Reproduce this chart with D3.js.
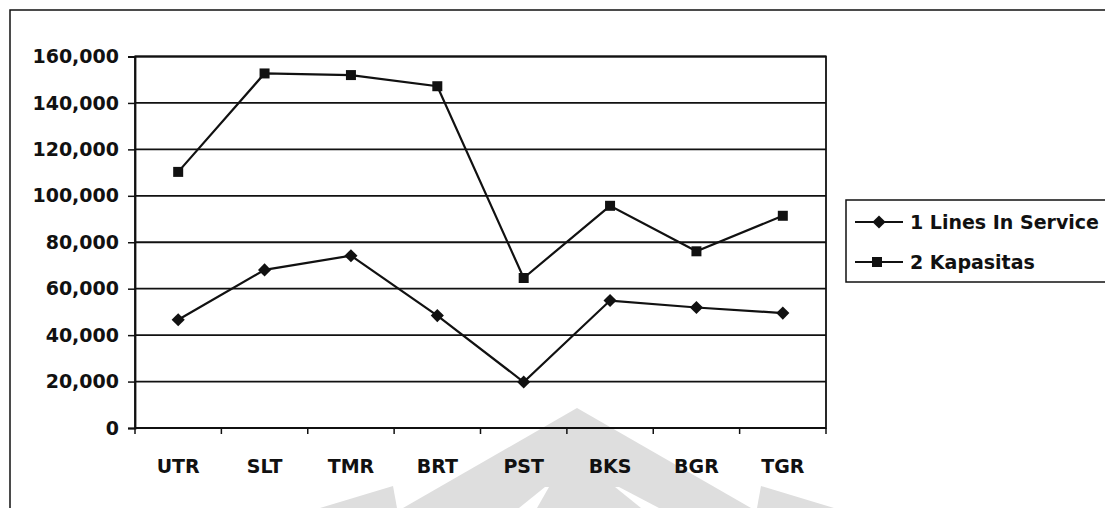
<!DOCTYPE html>
<html>
<head>
<meta charset="utf-8">
<script src="https://cdn.jsdelivr.net/npm/d3@7"></script>
<style>
  html, body { margin: 0; padding: 0; background: #fff; }
  svg { display: block; }
  text { font-family: "DejaVu Sans", Verdana, sans-serif; font-weight: bold; fill: #111; }
</style>
</head>
<body>
<svg id="chart" width="1105" height="508"></svg>
<script>
// Regional data: lines in service vs. capacity
const categories = ["UTR", "SLT", "TMR", "BRT", "PST", "BKS", "BGR", "TGR"];
const linesInService = [46600, 68100, 74200, 48400, 19800, 54900, 51900, 49500];
const kapasitas = [110300, 152700, 152000, 147200, 64600, 95700, 76100, 91400];
const yTicks = [0, 20000, 40000, 60000, 80000, 100000, 120000, 140000, 160000];
const seriesNames = ["1 Lines In Service", "2 Kapasitas"];

const svg = d3.select("#chart");
const W = 1105, H = 508;
const plot = { left: 135, right: 826, top: 56.5, bottom: 428 };

// Faint background emblem
const bg = svg.append("g").attr("fill", "#dedede");
bg.append("polygon").attr("points", "577,408 751,508 403,508");
bg.append("polygon").attr("points", "320,508 393,486 397,508");
bg.append("polygon").attr("points", "834,508 761,486 757,508");
const cut = svg.append("g").attr("fill", "#fff");
cut.append("polygon").attr("points", "545,487 549,487 537,508 519,508");
cut.append("polygon").attr("points", "615,487 619,487 659,508 641,508");

// Outer chart frame (top and left edges visible)
svg.append("path")
  .attr("d", `M10,${H} L10,10 L${W},10`)
  .attr("fill", "none").attr("stroke", "#111").attr("stroke-width", 1.5);

const x = d3.scaleBand().domain(categories).range([plot.left, plot.right]).padding(0);
const y = d3.scaleLinear().domain([0, 160000]).range([plot.bottom, plot.top]);

// Horizontal gridlines
svg.append("g")
  .selectAll("line")
  .data(yTicks)
  .join("line")
  .attr("x1", plot.left).attr("x2", plot.right)
  .attr("y1", d => y(d)).attr("y2", d => y(d))
  .attr("stroke", "#111").attr("stroke-width", 1.8);

// Plot area border
svg.append("rect")
  .attr("x", plot.left).attr("y", plot.top)
  .attr("width", plot.right - plot.left).attr("height", plot.bottom - plot.top)
  .attr("fill", "none").attr("stroke", "#111").attr("stroke-width", 1.8);

// Y axis
const yAxis = svg.append("g")
  .attr("transform", `translate(${plot.left},0)`)
  .call(d3.axisLeft(y).tickValues(yTicks).tickFormat(d3.format(",")).tickSize(7).tickPadding(9));
yAxis.select(".domain").attr("stroke", "#111").attr("stroke-width", 1.8);
yAxis.selectAll(".tick line").attr("stroke", "#111").attr("stroke-width", 1.5);
yAxis.selectAll(".tick text").attr("font-size", 19).attr("fill", "#111")
  .attr("font-family", "DejaVu Sans, Verdana, sans-serif").attr("font-weight", "bold");

// X axis: category labels, ticks on band boundaries
const xAxis = svg.append("g")
  .attr("transform", `translate(0,${plot.bottom})`)
  .call(d3.axisBottom(x).tickSize(0).tickPadding(32));
xAxis.select(".domain").remove();
xAxis.selectAll(".tick text").attr("font-size", 19).attr("fill", "#111")
  .attr("font-family", "DejaVu Sans, Verdana, sans-serif").attr("font-weight", "bold");

const edges = categories.map(c => x(c)).concat([x(categories[categories.length - 1]) + x.bandwidth()]);
svg.append("g")
  .selectAll("line")
  .data(edges)
  .join("line")
  .attr("x1", d => d).attr("x2", d => d)
  .attr("y1", plot.bottom).attr("y2", plot.bottom + 6)
  .attr("stroke", "#111").attr("stroke-width", 1.5);

const cx = c => x(c) + x.bandwidth() / 2;

const line = d3.line().x(d => cx(d.cat)).y(d => y(d.v));
const series = [
  { name: seriesNames[0], values: linesInService, marker: "diamond" },
  { name: seriesNames[1], values: kapasitas, marker: "square" }
];

const diamond = d3.symbol().type(d3.symbolDiamond2).size(110);
const square = d3.symbol().type(d3.symbolSquare).size(100);

series.forEach(s => {
  const pts = s.values.map((v, i) => ({ cat: categories[i], v }));
  svg.append("path")
    .datum(pts)
    .attr("d", line)
    .attr("fill", "none").attr("stroke", "#111").attr("stroke-width", 2.2);
  svg.append("g")
    .selectAll("path")
    .data(pts)
    .join("path")
    .attr("transform", d => `translate(${cx(d.cat)},${y(d.v)})`)
    .attr("d", s.marker === "diamond" ? diamond() : square())
    .attr("fill", "#111");
});

// Legend
const lg = svg.append("g");
lg.append("rect")
  .attr("x", 846).attr("y", 200).attr("width", 280).attr("height", 82)
  .attr("fill", "#fff").attr("stroke", "#111").attr("stroke-width", 1.5);
series.forEach((s, i) => {
  const ly = 222 + i * 40;
  lg.append("line").attr("x1", 855).attr("x2", 903).attr("y1", ly).attr("y2", ly)
    .attr("stroke", "#111").attr("stroke-width", 2);
  lg.append("path")
    .attr("transform", `translate(${i === 0 ? 879 : 877},${ly})`)
    .attr("d", s.marker === "diamond" ? diamond() : square())
    .attr("fill", "#111");
  lg.append("text").attr("x", 910).attr("y", ly).attr("dy", "0.36em")
    .attr("font-size", 19).text(s.name);
});
</script>
</body>
</html>
